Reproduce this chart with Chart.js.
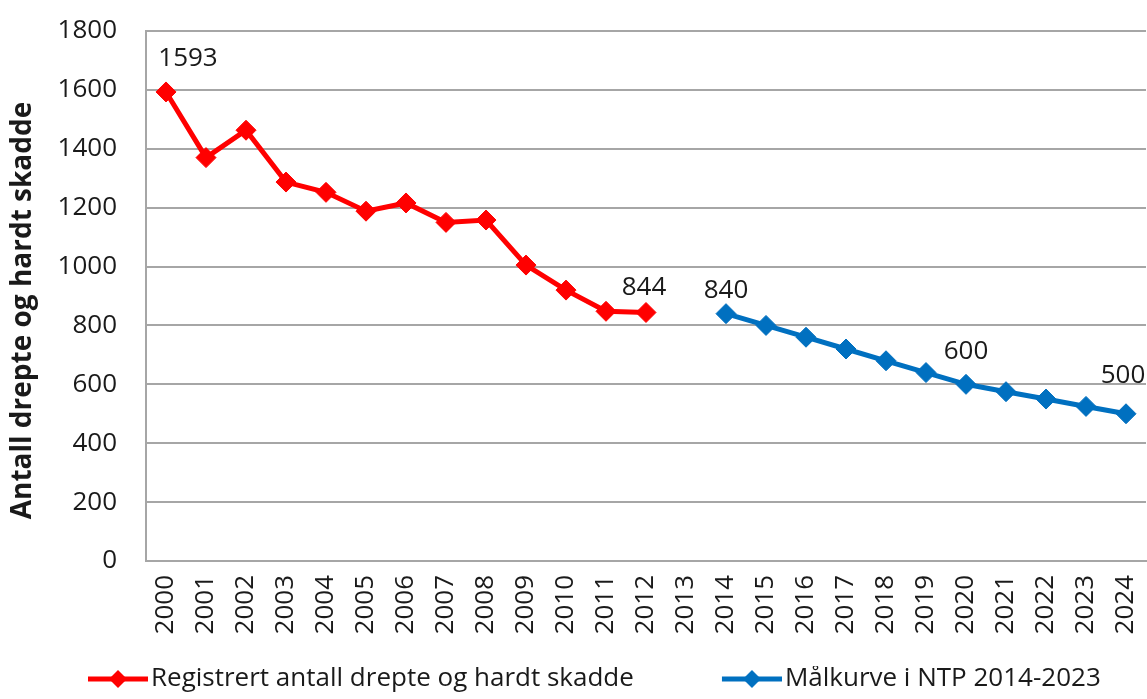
<!DOCTYPE html>
<html>
<head>
<meta charset="utf-8">
<script src="https://cdn.jsdelivr.net/npm/chart.js@4.4.0/dist/chart.umd.min.js"></script>
<style>
html, body { margin: 0; padding: 0; background: #fff; }
#wrap { width: 1147px; height: 699px; }
</style>
</head>
<body>
<div id="wrap"><canvas id="myChart"></canvas></div>
<script>
// years on the x axis (2013 has no value in either series)
var years = ["2000","2001","2002","2003","2004","2005","2006","2007","2008","2009","2010","2011","2012",
             "2013","2014","2015","2016","2017","2018","2019","2020","2021","2022","2023","2024"];

// registered killed + seriously injured
var registrert = [1593,1370,1463,1287,1252,1188,1216,1150,1158,1005,920,848,844,
                  null,null,null,null,null,null,null,null,null,null,null,null];

// target curve NTP 2014-2023
var malkurve = [null,null,null,null,null,null,null,null,null,null,null,null,null,null,
                840,800,760,720,680,640,600,575,550,525,500];

var yTicks = [0,200,400,600,800,1000,1200,1400,1600,1800];

var seriesNames = ["Registrert antall drepte og hardt skadde", "Målkurve i NTP 2014-2023"];

var red = "#ff0000";
var blue = "#0070c0";
var fontFamily = "'Open Sans', sans-serif";
var textColor = "#1a1a1a";
var gridColor = "#a6a6a6";

// which points get a value label
var shownLabels = [
  { ds: 0, i: 0,  dx: 22, dy: -33 },
  { ds: 0, i: 12, dx: -2, dy: -25 },
  { ds: 1, i: 14, dx: 0,  dy: -23 },
  { ds: 1, i: 20, dx: 0,  dy: -33 },
  { ds: 1, i: 24, dx: -3, dy: -38 }
];

// legend marker: line with a diamond; the box is wide so the left part stays empty
var legendBox = 138;
function legendMark(color) {
  var w = legendBox + 20, h = 22;
  var c = document.createElement("canvas");
  c.width = w; c.height = h;
  var x = c.getContext("2d");
  var x0 = w - 60;
  x.strokeStyle = color;
  x.lineWidth = 5;
  x.beginPath(); x.moveTo(x0, h / 2); x.lineTo(w, h / 2); x.stroke();
  x.fillStyle = color;
  var cx = x0 + 30;
  x.beginPath();
  x.moveTo(cx, 2); x.lineTo(cx + 9, h / 2); x.lineTo(cx, h - 2); x.lineTo(cx - 9, h / 2);
  x.closePath(); x.fill();
  return c;
}
var marks = [legendMark(red), legendMark(blue)];

var valueLabels = {
  id: "valueLabels",
  afterDatasetsDraw: function(chart) {
    var ctx = chart.ctx;
    ctx.save();
    ctx.font = "26px " + fontFamily;
    ctx.fillStyle = textColor;
    ctx.textAlign = "center";
    ctx.textBaseline = "middle";
    shownLabels.forEach(function(l) {
      var pt = chart.getDatasetMeta(l.ds).data[l.i];
      var v = chart.data.datasets[l.ds].data[l.i];
      ctx.fillText(String(v), pt.x + l.dx, pt.y + l.dy);
    });
    ctx.restore();
  }
};

new Chart("myChart", {
  type: "line",
  data: {
    labels: years,
    datasets: [{
      label: seriesNames[0],
      data: registrert,
      borderColor: red,
      backgroundColor: red,
      borderWidth: 5,
      pointStyle: "rectRot",
      pointRadius: 10,
      pointBorderWidth: 1,
      spanGaps: false
    }, {
      label: seriesNames[1],
      data: malkurve,
      borderColor: blue,
      backgroundColor: blue,
      borderWidth: 5,
      pointStyle: "rectRot",
      pointRadius: 10,
      pointBorderWidth: 1,
      spanGaps: false
    }]
  },
  options: {
    responsive: true,
    maintainAspectRatio: false,
    animation: false,
    layout: { autoPadding: false, padding: { left: 0, right: 1, top: 31, bottom: -3 } },
    plugins: {
      tooltip: { enabled: false },
      legend: {
        position: "bottom",
        align: "start",
        labels: {
          usePointStyle: true,
          pointStyleWidth: legendBox,
          padding: 0,
          color: textColor,
          font: { family: fontFamily, size: 26 },
          generateLabels: function(chart) {
            var items = Chart.defaults.plugins.legend.labels.generateLabels(chart);
            items.forEach(function(it, k) { it.pointStyle = marks[k]; });
            return items;
          }
        }
      }
    },
    scales: {
      x: {
        offset: true,
        afterFit: function(scale) {
          scale.height = 105;
          scale.paddingLeft = 0;
          scale.paddingRight = 0;
        },
        grid: { display: false, drawTicks: false },
        border: { display: true, color: gridColor, width: 2 },
        ticks: {
          minRotation: 90, maxRotation: 90,
          padding: 14,
          color: textColor,
          font: { family: fontFamily, size: 26 }
        }
      },
      y: {
        min: 0, max: 1800,
        afterBuildTicks: function(scale) {
          scale.ticks = yTicks.map(function(v) { return { value: v }; });
        },
        afterFit: function(scale) {
          scale.width = 146;
          scale.paddingTop = 0;
          scale.paddingBottom = 0;
        },
        grid: { color: gridColor, lineWidth: 2, drawTicks: false },
        border: { color: gridColor, width: 2 },
        ticks: {
          padding: 29,
          color: textColor,
          font: { family: fontFamily, size: 26 },
          callback: function(v) { return String(v); }
        },
        title: {
          display: true,
          // trailing spaces push the text a little down, as in the original
          text: "Antall drepte og hardt skadde    ",
          color: textColor,
          padding: { top: 6, bottom: 0 },
          font: { family: fontFamily, size: 28, weight: "bold" }
        }
      }
    }
  },
  plugins: [valueLabels]
});
</script>
</body>
</html>
